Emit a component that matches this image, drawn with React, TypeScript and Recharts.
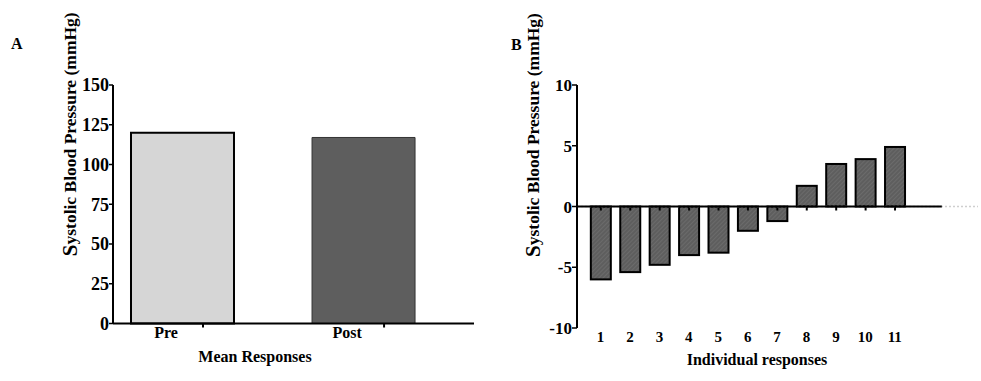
import React from 'react';
import { BarChart, Bar, XAxis, YAxis, Cell, ReferenceLine, Label } from 'recharts';

// ---------- Panel A data ----------
const meanCategories = ['Pre', 'Post'];
const meanPositions = [1, 2];
const meanValues = [120, 117];
const meanFills = ['#d6d6d6', '#5e5e5e'];
const meanTicks = [0, 25, 50, 75, 100, 125, 150];
const meanDomainX = [0.616, 2.61];

// ---------- Panel B data ----------
const individualLabels = [1, 2, 3, 4, 5, 6, 7, 8, 9, 10, 11];
const individualValues = [-6.0, -5.4, -4.8, -4.0, -3.8, -2.0, -1.2, 1.7, 3.5, 3.9, 4.9];
const individualTicks = [-10, -5, 0, 5, 10];
const individualDomainX = [0.2, 13.83];
const zeroLineEnd = 12.6;

const meanData = meanCategories.map((name, i) => ({ name, x: meanPositions[i], value: meanValues[i] }));
const individualData = individualLabels.map((x, i) => ({ x, value: individualValues[i] }));

const FONT = '"Liberation Serif", "Times New Roman", serif';
const tickStyleA = { fontFamily: FONT, fontWeight: 'bold', fontSize: 18, fill: '#000' };
const tickStyleB = { fontFamily: FONT, fontWeight: 'bold', fontSize: 17, fill: '#000' };

const YTitle = (props: any) => {
  const { viewBox, dx, dy } = props;
  const cx = viewBox.x + dx;
  const cy = viewBox.y + viewBox.height / 2 + dy;
  return (
    <text
      x={cx}
      y={cy}
      transform={`rotate(-90 ${cx} ${cy})`}
      textAnchor="middle"
      dominantBaseline="central"
      fontFamily={FONT}
      fontWeight="bold"
      fontSize={17.5}
      fill="#000"
    >
      <tspan fontSize={21}>S</tspan>ystolic Blood Pressure (mmHg)
    </text>
  );
};

const XTitle = (props: any) => {
  const { viewBox, dx, dy, value } = props;
  const cx = viewBox.x + viewBox.width / 2 + dx;
  const cy = viewBox.y + dy;
  return (
    <text x={cx} y={cy} textAnchor="middle" fontFamily={FONT} fontWeight="bold" fontSize={16} fill="#000">
      {value}
    </text>
  );
};

const MeanTick = (props: any) => {
  const { x, y, payload } = props;
  const idx = meanPositions.indexOf(payload.value);
  return (
    <g>
      <line x1={x + 20.5} x2={x + 20.5} y1={y} y2={y + 4} stroke="#000" strokeWidth={2} />
      <text x={x - 16.5} y={y + 14.5} textAnchor="middle" fontFamily={FONT} fontWeight="bold" fontSize={16} fill="#000">
        {meanCategories[idx]}
      </text>
    </g>
  );
};

const IndividualTick = (props: any) => {
  const { x, y, payload } = props;
  return (
    <text x={x} y={y + 14} textAnchor="middle" fontFamily={FONT} fontWeight="bold" fontSize={15} fill="#000">
      {payload.value}
    </text>
  );
};

const HatchBar = (props: any) => {
  const { x, y, width, height, payload } = props;
  const top = Math.min(y, y + height);
  const h = Math.abs(height);
  const zero = payload.value < 0 ? top : top + h;
  const cx = x + width / 2;
  return (
    <g>
      <rect x={x} y={top} width={width} height={h} fill="url(#hatch)" stroke="#000" strokeWidth={2} />
      <line x1={cx} x2={cx} y1={zero} y2={zero + 4} stroke="#000" strokeWidth={2} />
    </g>
  );
};

export default function App() {
  return (
    <div style={{ position: 'absolute', left: 0, top: 0, width: 981, height: 381, background: '#fff', overflow: 'hidden' }}>
      <svg width={981} height={381} style={{ position: 'absolute', left: 0, top: 0, pointerEvents: 'none' }}>
        <text x={11} y={49} fontFamily={FONT} fontWeight="bold" fontSize={16} fill="#000">A</text>
        <text x={511} y={50} fontFamily={FONT} fontWeight="bold" fontSize={16} fill="#000">B</text>
      </svg>

      <div style={{ position: 'absolute', left: 0, top: 0 }}>
        <BarChart width={490} height={381} data={meanData} margin={{ top: 85, right: 16, bottom: 17.5, left: 0 }}>
          <XAxis
            dataKey="x"
            type="number"
            domain={meanDomainX}
            allowDataOverflow
            ticks={meanPositions}
            height={40}
            tickSize={0}
            tickMargin={0}
            tick={<MeanTick />}
            axisLine={{ stroke: '#000', strokeWidth: 2 }}
            tickLine={false}
          >
            <Label content={(p: any) => <XTitle {...p} value="Mean Responses" dx={-38.5} dy={38} />} />
          </XAxis>
          <YAxis
            domain={[0, 150]}
            ticks={meanTicks}
            width={113}
            tickSize={4}
            tickMargin={0}
            tick={tickStyleA}
            axisLine={{ stroke: '#000', strokeWidth: 2 }}
            tickLine={{ stroke: '#000', strokeWidth: 1.5 }}
          >
            <Label content={(p: any) => <YTitle {...p} dx={70} dy={-70} />} />
          </YAxis>
          <Bar dataKey="value" barSize={103} isAnimationActive={false}>
            {meanData.map((d, i) => (
              <Cell key={d.name} fill={meanFills[i]} stroke={i === 0 ? '#000' : '#333'} strokeWidth={i === 0 ? 2 : 1} />
            ))}
          </Bar>
        </BarChart>
      </div>

      <div style={{ position: 'absolute', left: 490, top: 0 }}>
        <BarChart width={491} height={381} data={individualData} margin={{ top: 85, right: 3, bottom: 13, left: 0 }}>
          <defs>
            <pattern id="hatch" width={3} height={3} patternUnits="userSpaceOnUse" patternTransform="rotate(45)">
              <rect width={3} height={3} fill="#5e5e5e" />
              <line x1={0} y1={0} x2={0} y2={3} stroke="#747474" strokeWidth={1.2} />
            </pattern>
          </defs>
          <XAxis
            dataKey="x"
            type="number"
            domain={individualDomainX}
            allowDataOverflow
            ticks={individualLabels}
            height={40}
            tickSize={0}
            tickMargin={0}
            tick={<IndividualTick />}
            axisLine={false}
            tickLine={false}
          >
            <Label content={(p: any) => <XTitle {...p} value="Individual responses" dx={-20.5} dy={37} />} />
          </XAxis>
          <YAxis
            domain={[-10, 10]}
            ticks={individualTicks}
            width={87}
            tickSize={5}
            tickMargin={0}
            tick={tickStyleB}
            axisLine={{ stroke: '#000', strokeWidth: 2 }}
            tickLine={{ stroke: '#000', strokeWidth: 1.5 }}
          >
            <Label content={(p: any) => <YTitle {...p} dx={43} dy={-71.5} />} />
          </YAxis>
          <ReferenceLine y={0} stroke="#cfcfcf" strokeWidth={1.5} strokeDasharray="2 2" />
          <Bar dataKey="value" barSize={20} shape={<HatchBar />} isAnimationActive={false} />
          <ReferenceLine
            segment={[{ x: individualDomainX[0], y: 0 }, { x: zeroLineEnd, y: 0 }]}
            stroke="#000"
            strokeWidth={2}
          />
        </BarChart>
      </div>
    </div>
  );
}
